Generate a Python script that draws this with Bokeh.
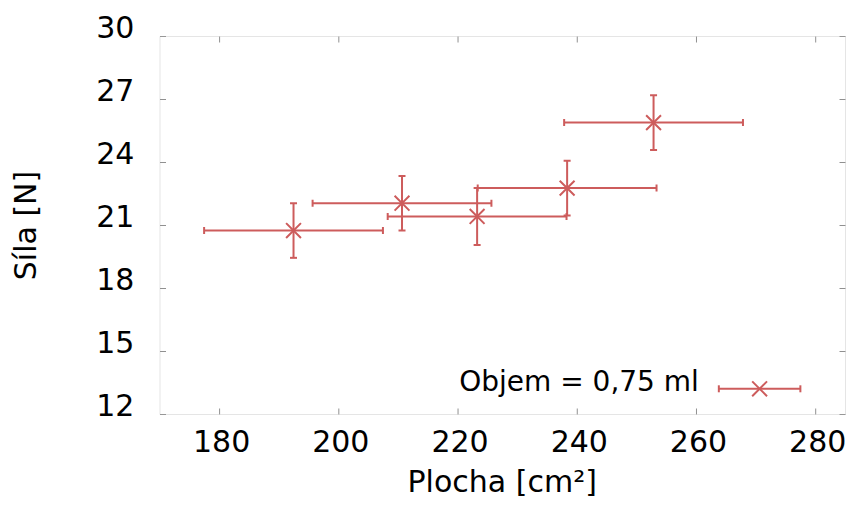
import math
from bokeh.plotting import figure
from bokeh.models import ColumnDataSource, Whisker, TeeHead, BoxAnnotation, Range1d
from bokeh.core.properties import value
from bokeh.embed import file_html
from bokeh.resources import INLINE

# ---- data ----
plocha = [192.4, 210.6, 223.2, 238.3, 252.8]      # cm^2
sila = [20.76, 22.06, 21.43, 22.78, 25.9]          # N
plocha_err = [15.0, 15.0, 15.0, 15.0, 15.0]
sila_err = [1.3, 1.3, 1.36, 1.3, 1.3]
x_ticks = [180, 200, 220, 240, 260, 280]
y_ticks = [12, 15, 18, 21, 24, 27, 30]
x_tick_labels = [str(t) for t in x_ticks]
y_tick_labels = [str(t) for t in y_ticks]
legend_label = "Objem = 0,75 ml"
x_title = "Plocha [cm²]"
y_title = "Síla [N]"

# ---- styling / layout ----
COLOR = "#cd5c5c"
FONT = "DejaVu Sans"
BOX_GRAY = "#a8a8a8"
TICK_GRAY = "#909090"
X0, X1, Y0, Y1 = 170, 285, 12, 30           # plotted box
W, H = 848, 498
BOX_L, BOX_R, BOX_T, BOX_B = 159.5, 845.0, 36.0, 414.0   # box in canvas px
sx = (BOX_R - BOX_L) / (X1 - X0)
sy = (BOX_B - BOX_T) / (Y1 - Y0)
x_range = Range1d(X0 - BOX_L / sx, X1 + (W - BOX_R) / sx)
y_range = Range1d(Y0 - (H - BOX_B) / sy, Y1 + BOX_T / sy)

p = figure(width=W, height=H, output_backend="svg", toolbar_location=None,
           x_range=x_range, y_range=y_range,
           x_axis_location=None, y_axis_location=None,
           min_border=0, min_border_left=0, min_border_right=0,
           min_border_top=0, min_border_bottom=0)
p.grid.visible = False
p.outline_line_color = None
p.background_fill_color = "white"
p.border_fill_color = "white"

# plot box
p.add_layout(BoxAnnotation(left=X0, right=X1, bottom=Y0, top=Y1, fill_alpha=0,
                           fill_color=None, line_color=BOX_GRAY, line_width=1))

# ticks (inward, mirrored on all sides)
nx, ny = len(x_ticks), len(y_ticks)
tick_src = ColumnDataSource(dict(
    x=x_ticks + x_ticks + [X0] * ny + [X1] * ny,
    y=[Y0] * nx + [Y1] * nx + y_ticks + y_ticks,
    a=[math.pi / 2] * nx + [-math.pi / 2] * nx + [0.0] * ny + [math.pi] * ny,
))
p.ray(x="x", y="y", angle="a", length=6, length_units="screen", source=tick_src,
      line_color=TICK_GRAY, line_width=1)

# tick labels
p.text(x=x_ticks, y=[Y0] * nx, text=x_tick_labels, x_offset=2, y_offset=26,
       text_align="center", text_baseline="middle",
       text_font=value(FONT), text_font_size=value("30px"), text_color="black")
p.text(x=[X0] * ny, y=y_ticks, text=y_tick_labels, x_offset=-25.7, y_offset=-10,
       text_align="right", text_baseline="middle",
       text_font=value(FONT), text_font_size=value("30px"), text_color="black")

# axis titles
p.text(x=[X0], y=[(Y0 + Y1) / 2], text=[y_title], x_offset=-135, y_offset=0,
       angle=math.pi / 2, text_align="center", text_baseline="middle",
       text_font=value(FONT), text_font_size=value("30px"), text_color="black")
p.text(x=[X0], y=[Y0], text=[x_title], x_offset=247.5, y_offset=67,
       text_align="left", text_baseline="middle",
       text_font=value(FONT), text_font_size=value("30px"), text_color="black")

# error bars + points
src = ColumnDataSource(dict(
    x=plocha, y=sila,
    xl=[a - e for a, e in zip(plocha, plocha_err)],
    xu=[a + e for a, e in zip(plocha, plocha_err)],
    yl=[a - e for a, e in zip(sila, sila_err)],
    yu=[a + e for a, e in zip(sila, sila_err)],
))


def heads():
    return dict(lower_head=TeeHead(size=7, line_color=COLOR, line_width=2),
                upper_head=TeeHead(size=7, line_color=COLOR, line_width=2))


p.add_layout(Whisker(source=src, base="y", lower="xl", upper="xu", dimension="width",
                     line_color=COLOR, line_width=2, **heads()))
p.add_layout(Whisker(source=src, base="x", lower="yl", upper="yu", dimension="height",
                     line_color=COLOR, line_width=2, **heads()))
p.scatter("x", "y", source=src, marker="x", size=21, line_color=COLOR, line_width=2)

# legend (gnuplot style: label on the left, sample on the right)
LEG_TEXT_X, LEG_TEXT_Y = 260.4, 13.595
LEG_X0, LEG_X1, LEG_Y = 263.75, 277.43, 13.224
leg_src = ColumnDataSource(dict(x=[(LEG_X0 + LEG_X1) / 2], y=[LEG_Y],
                                xl=[LEG_X0], xu=[LEG_X1]))
p.add_layout(Whisker(source=leg_src, base="y", lower="xl", upper="xu", dimension="width",
                     line_color=COLOR, line_width=2, **heads()))
p.scatter("x", "y", source=leg_src, marker="x", size=21, line_color=COLOR, line_width=2)
p.text(x=[LEG_TEXT_X], y=[LEG_TEXT_Y], text=[legend_label],
       text_align="right", text_baseline="middle",
       text_font=value(FONT), text_font_size=value("28px"), text_color="black")

open("out.html", "w").write(file_html(p, INLINE))
